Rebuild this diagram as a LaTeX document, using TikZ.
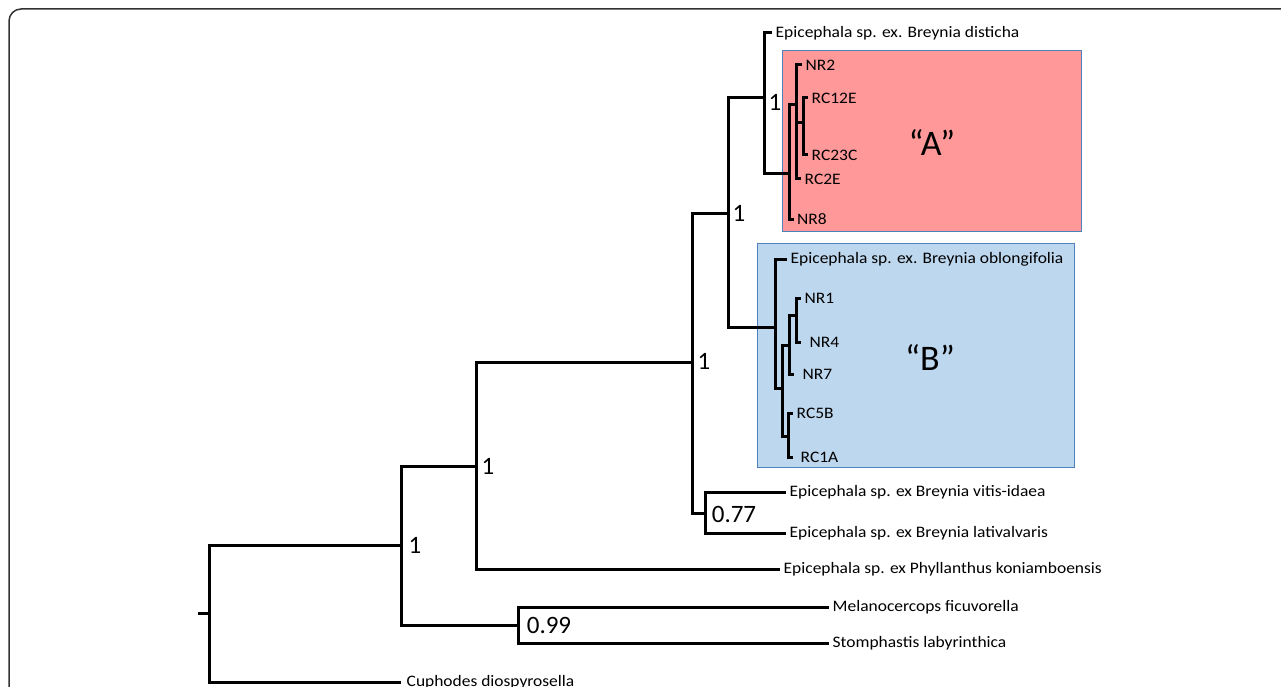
\documentclass[tikz,border=0pt]{standalone}
\usepackage{fontspec}
\setmainfont{Carlito}
\newcommand{\tiptext}[1]{\scalebox{1.09}[1]{#1}}
\begin{document}
\begin{tikzpicture}[x=1pt,y=-1pt,
  br/.style={line width=3pt, line join=miter},
  tiplab/.style={anchor=west, inner sep=0pt, xshift=3.5pt, font=\fontsize{16}{18}\selectfont},
  supp/.style={inner sep=0pt, font=\fontsize{25}{28}\selectfont},
  clade/.style={draw={rgb,255:red,79;green,129;blue,189}, line width=1.2pt, anchor=north west, inner sep=0pt},
  cladelab/.style={inner sep=0pt, font=\fontsize{36}{40}\selectfont}]
\definecolor{cladeA}{RGB}{255,153,153}
\definecolor{cladeB}{RGB}{189,215,238}
\useasboundingbox (0,0) rectangle (1281,687);
\clip (0,0) rectangle (1281,687);
\draw[line width=1.5pt, draw={rgb,255:red,50;green,50;blue,50}, rounded corners=12pt] (9,9) rectangle (1320,720);

% clade boxes
\node (boxA) [clade, fill=cladeA, minimum width=299pt, minimum height=181pt] at (782,50) {};
\node (boxB) [clade, fill=cladeB, minimum width=317pt, minimum height=224pt] at (757,243) {};
\node (labA) [cladelab] at (932,143) {“A”};
\node (labB) [cladelab] at (930,358) {“B”};

% internal nodes
\coordinate (stub) at (198,613);
\coordinate (r) at (209,613);
\coordinate (n401) at (401,545);
\coordinate (n518) at (518,625);
\coordinate (n476) at (476,466);
\coordinate (n692) at (692,362);
\coordinate (n705) at (705,513);
\coordinate (n728) at (728,213);
\coordinate (n764) at (764,98);
\coordinate (nA) at (789,174);
\coordinate (nA2) at (796,105);
\coordinate (nA3) at (803,123);
\coordinate (nB) at (775,327);
\coordinate (nB2) at (782,388);
\coordinate (nB3) at (789,345);
\coordinate (nB5) at (796,315);
\coordinate (nB4) at (788,436);

% tips
\coordinate (tCup) at (401,682);
\coordinate (tMel) at (829,607);
\coordinate (tSto) at (829,643);
\coordinate (tPhy) at (780,569);
\coordinate (tVit) at (786,492);
\coordinate (tLat) at (786,533);
\coordinate (tDis) at (772,33);
\coordinate (tNR2) at (802,65);
\coordinate (tRC12E) at (808,98);
\coordinate (tRC23C) at (808,155);
\coordinate (tRC2E) at (801,179);
\coordinate (tNR8) at (794,219);
\coordinate (tObl) at (787,259);
\coordinate (tNR1) at (801,298);
\coordinate (tNR4) at (801,342);
\coordinate (tNR7) at (794,374);
\coordinate (tRC5B) at (793,413);
\coordinate (tRC1A) at (793,457);

% branches
\draw[br] (stub) -- (r);
\draw[br] (r) |- (n401);
\draw[br] (r) |- (tCup);
\draw[br] (n401) |- (n476);
\draw[br] (n401) |- (n518);
\draw[br] (n518) |- (tMel);
\draw[br] (n518) |- (tSto);
\draw[br] (n476) |- (n692);
\draw[br] (n476) |- (tPhy);
\draw[br] (n692) |- (n728);
\draw[br] (n692) |- (n705);
\draw[br] (n705) |- (tVit);
\draw[br] (n705) |- (tLat);
\draw[br] (n728) |- (n764);
\draw[br] (n728) |- (nB);
\draw[br] (n764) |- (tDis);
\draw[br] (n764) |- (nA);
\draw[br] (nA) |- (nA2);
\draw[br] (nA) |- (tNR8);
\draw[br] (nA2) |- (tNR2);
\draw[br] (nA2) |- (nA3);
\draw[br] (nA2) |- (tRC2E);
\draw[br] (nA3) |- (tRC12E);
\draw[br] (nA3) |- (tRC23C);
\draw[br] (nB) |- (tObl);
\draw[br] (nB) |- (nB2);
\draw[br] (nB2) |- (nB3);
\draw[br] (nB2) |- (nB4);
\draw[br] (nB3) |- (nB5);
\draw[br] (nB3) |- (tNR7);
\draw[br] (nB5) |- (tNR1);
\draw[br] (nB5) |- (tNR4);
\draw[br] (nB4) |- (tRC5B);
\draw[br] (nB4) |- (tRC1A);

% tip labels
\node (lCup) [tiplab, xshift=2pt] at (tCup) {\tiptext{Cuphodes diospyrosella}};
\node (lMel) [tiplab] at (tMel) {\tiptext{Melanocercops ficuvorella}};
\node (lSto) [tiplab] at (tSto) {\tiptext{Stomphastis labyrinthica}};
\node (lPhy) [tiplab] at (tPhy) {\tiptext{Epicephala sp. ex Phyllanthus koniamboensis}};
\node (lVit) [tiplab] at (tVit) {\tiptext{Epicephala sp. ex Breynia vitis-idaea}};
\node (lLat) [tiplab] at (tLat) {\tiptext{Epicephala sp. ex Breynia lativalvaris}};
\node (lDis) [tiplab] at (tDis) {\tiptext{Epicephala sp. ex. Breynia disticha}};
\node (lNR2) [tiplab] at (tNR2) {\tiptext{NR2}};
\node (lRC12E) [tiplab] at (tRC12E) {\tiptext{RC12E}};
\node (lRC23C) [tiplab] at (tRC23C) {\tiptext{RC23C}};
\node (lRC2E) [tiplab] at (tRC2E) {\tiptext{RC2E}};
\node (lNR8) [tiplab, xshift=-0.5pt] at (tNR8) {\tiptext{NR8}};
\node (lObl) [tiplab] at (tObl) {\tiptext{Epicephala sp. ex. Breynia oblongifolia}};
\node (lNR1) [tiplab] at (tNR1) {\tiptext{NR1}};
\node (lNR4) [tiplab, xshift=5pt] at (tNR4) {\tiptext{NR4}};
\node (lNR7) [tiplab, xshift=5pt] at (tNR7) {\tiptext{NR7}};
\node (lRC5B) [tiplab] at (tRC5B) {\tiptext{RC5B}};
\node (lRC1A) [tiplab, xshift=4pt] at (tRC1A) {\tiptext{RC1A}};

% support values
\node (s401) [supp] at (415,545) {1};
\node (s476) [supp] at (488,466) {1};
\node (s518) [supp] at (549,625) {0.99};
\node (s692) [supp] at (704,361) {1};
\node (s705) [supp] at (734,514) {0.77};
\node (s728) [supp] at (739,213) {1};
\node (s764) [supp] at (775,102) {1};
\end{tikzpicture}
\end{document}
